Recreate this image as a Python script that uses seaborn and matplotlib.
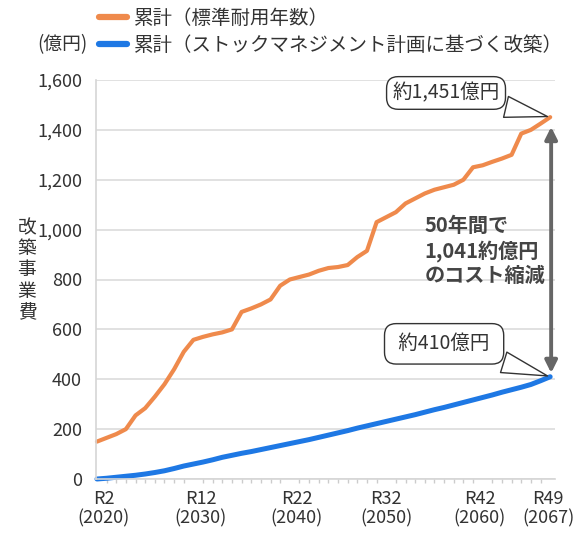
import matplotlib
matplotlib.use("Agg")
import matplotlib.pyplot as plt
import matplotlib.transforms as mtransforms
import seaborn as sns
import pandas as pd
from matplotlib.ticker import FuncFormatter, MultipleLocator

years = list(range(2020, 2068))
standard_life = [150, 165, 180, 200, 255, 284, 330, 380, 440, 510,
                 558, 570, 580, 588, 600, 670, 684, 700, 720, 775,
                 800, 810, 820, 835, 846, 850, 858, 890, 915, 1030,
                 1050, 1070, 1105, 1125, 1145, 1160, 1170, 1180, 1200, 1250,
                 1258, 1272, 1285, 1300, 1385, 1400, 1425, 1451]
stock_mgmt = [0, 3, 7, 11, 15, 20, 26, 33, 42, 52,
              60, 68, 77, 87, 95, 103, 110, 118, 126, 134,
              142, 150, 158, 167, 176, 185, 194, 204, 213, 222,
              231, 240, 249, 258, 268, 278, 287, 297, 307, 317,
              327, 337, 348, 358, 368, 379, 394, 410]
series_names = ["累計（標準耐用年数）", "累計（ストックマネジメント計画に基づく改築）"]
tick_years = [2020, 2030, 2040, 2050, 2060, 2067]
tick_labels = ["R2\n(2020)", "R12\n(2030)", "R22\n(2040)", "R32\n(2050)", "R42\n(2060)", "R49\n(2067)"]
end_labels = ["約1,451億円", " 約410億円 "]
note_text = "50年間で\n1,041約億円\nのコスト縮減"

df = pd.DataFrame({
    "year": years * 2,
    "value": standard_life + stock_mgmt,
    "series": [series_names[0]] * len(years) + [series_names[1]] * len(years),
})

sns.set_theme(style="white")
plt.rcParams["font.family"] = ["Noto Sans CJK JP", "DejaVu Sans"]

TXT = "#333333"
fig = plt.figure(figsize=(5.83, 5.33), dpi=100)
ax = fig.add_axes([96 / 583, 1 - 479 / 533, (555 - 96) / 583, (479 - 80) / 533])

palette = {series_names[0]: "#EF8A4C", series_names[1]: "#1E78E4"}
sns.lineplot(data=df, x="year", y="value", hue="series", palette=palette,
             linewidth=3.3, ax=ax, clip_on=False)
for ln, w in zip(ax.lines, [3.0, 3.6]):
    ln.set_linewidth(w)

ax.set_xlim(2019.9, 2067.5)
ax.set_ylim(0, 1600)
ax.yaxis.set_major_locator(MultipleLocator(200))
ax.yaxis.set_major_formatter(FuncFormatter(lambda v, p: f"{int(v):,}"))
ax.grid(axis="y", color="#dcdcdc", linewidth=1.2)
ax.set_axisbelow(True)
for s in ["top", "right"]:
    ax.spines[s].set_visible(False)
ax.spines["left"].set_color("#d5d5d5")
ax.spines["left"].set_linewidth(1.2)
ax.spines["bottom"].set_color("#d5d5d5")
ax.spines["bottom"].set_linewidth(1.2)

ax.set_xticks(tick_years)
ax.set_xticklabels(tick_labels)
ax.set_xticks(years, minor=True)
ax.tick_params(axis="x", which="minor", length=3, color="#cccccc", direction="out", bottom=True)
ax.tick_params(axis="x", which="major", length=0, pad=8, labelsize=13, labelcolor=TXT)
ax.tick_params(axis="y", length=0, pad=10, labelsize=13, labelcolor=TXT)
offsets_px = [7, 7, 7, 0, -3, -2]
for lab, dx in zip(ax.get_xticklabels(), offsets_px):
    lab.set_linespacing(1.05)
    lab.set_transform(lab.get_transform() + mtransforms.ScaledTranslation(dx / 100, 0, fig.dpi_scale_trans))
ax.set_xlabel("")
ax.set_ylabel("")

sns.move_legend(ax, "upper left", bbox_to_anchor=(99 / 583, 1 - 8 / 533),
                bbox_transform=fig.transFigure, frameon=False, title=None,
                fontsize=14, handlelength=1.45, handletextpad=0.35,
                labelspacing=0.3, borderaxespad=0, borderpad=0)
leg = ax.get_legend()
for h in leg.get_lines():
    h.set_linewidth(4.5)
for t in leg.get_texts():
    t.set_color(TXT)

fig.text(37 / 583, 1 - 45 / 533, "(億円)", fontsize=13.5, color=TXT, ha="left", va="center")
fig.text(27 / 583, 1 - 270 / 533, "\n".join("改築事業費"), fontsize=13.5, color=TXT,
         ha="center", va="center", linespacing=1.02)

ax.annotate(end_labels[0], xy=(years[-1], standard_life[-1]), xytext=(2056.2, 1548),
            textcoords="data", ha="center", va="center", fontsize=14, color=TXT,
            bbox=dict(boxstyle="round,pad=0.3,rounding_size=0.6", fc="white", ec="#333333", lw=1.0),
            arrowprops=dict(arrowstyle="wedge,tail_width=1.1,shrink_factor=0.5",
                            fc="white", ec="#333333", lw=1.0))
ax.annotate(end_labels[1], xy=(years[-1], stock_mgmt[-1]), xytext=(2056.0, 542),
            textcoords="data", ha="center", va="center", fontsize=14, color=TXT,
            bbox=dict(boxstyle="round,pad=0.5,rounding_size=0.6", fc="white", ec="#333333", lw=1.0),
            arrowprops=dict(arrowstyle="wedge,tail_width=1.1,shrink_factor=0.5",
                            fc="white", ec="#333333", lw=1.0))

ax.annotate("", xy=(2067.1, 1412), xytext=(2067.1, 425),
            arrowprops=dict(arrowstyle="<|-|>", color="#666666", lw=2.8, mutation_scale=18,
                            shrinkA=0, shrinkB=0), annotation_clip=False)
ax.text(2054.0, 915, note_text, fontsize=14.5, color="#444444", ha="left", va="center",
        fontweight="bold", linespacing=1.2)

fig.savefig("out.png", dpi=100, facecolor="white")
